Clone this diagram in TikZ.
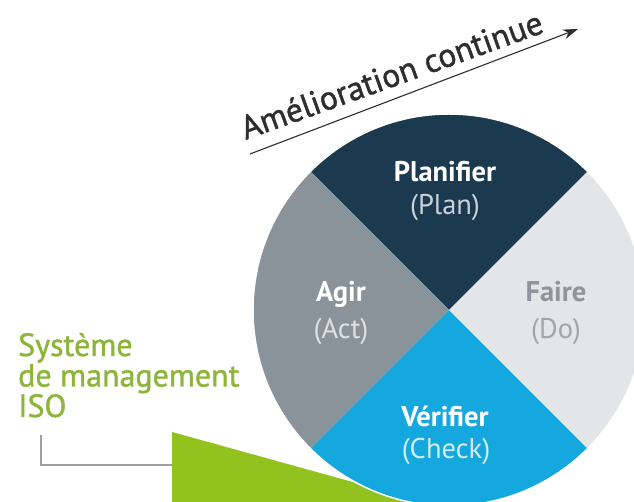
\documentclass[tikz,border=0pt]{standalone}
\usepackage{fontspec}
\setmainfont{PT Sans}
\newfontfamily\medfont[FakeBold=1.2]{PT Sans}
\usetikzlibrary{arrows.meta}
\definecolor{plancol}{HTML}{1C3A4F}
\definecolor{actcol}{HTML}{8B939A}
\definecolor{docol}{HTML}{E4E5E7}
\definecolor{checkcol}{HTML}{14A8DE}
\definecolor{greenshape}{HTML}{92C21E}
\definecolor{greentext}{HTML}{8CB53A}
\definecolor{arrowcol}{HTML}{2E2E2E}
\definecolor{linkcol}{HTML}{A0A0A0}
\definecolor{faircol}{HTML}{8E959C}
\tikzset{
  big/.style={font=\bfseries\fontsize{28.5}{28.5}\selectfont, anchor=base, inner sep=0pt},
  small/.style={font=\fontsize{28.5}{28.5}\selectfont, anchor=base, inner sep=0pt},
}
\begin{document}
\begin{tikzpicture}[x=1pt,y=1pt]
\useasboundingbox (0,0) rectangle (634,502);
\clip (0,0) rectangle (634,502);
\fill[white] (0,0) rectangle (634,502);
% green shape behind the wheel
\fill[greenshape] (172,70) -- (172,-10) -- (461,-10) -- cycle;
% wheel
\coordinate (c) at (449,192);
\def\R{196}
\fill[plancol] (c) -- ++(45:\R) arc[start angle=45,end angle=135,radius=\R] -- cycle;
\fill[actcol] (c) -- ++(135:\R) arc[start angle=135,end angle=225,radius=\R] -- cycle;
\fill[checkcol] (c) -- ++(225:\R) arc[start angle=225,end angle=315,radius=\R] -- cycle;
\fill[docol] (c) -- ++(-45:\R) arc[start angle=-45,end angle=45,radius=\R] -- cycle;
\draw[white, line width=1.5pt] (c) circle[radius=\R];
% labels in the wheel
\node[big, white] (plan) at (445,320) {Planifier};
\node[small, color={rgb,255:red,200;green,210;blue,218}] (plan2) at (445,287) {(Plan)};
\node[big, white] (act) at (341,200) {Agir};
\node[small, color={rgb,255:red,221;green,225;blue,228}] (act2) at (341,163) {(Act)};
\node[big, faircol] (do) at (556,200) {Faire};
\node[small, color={rgb,255:red,160;green,166;blue,172}] (do2) at (556,163) {(Do)};
\node[big, white] (check) at (445,75) {Vérifier};
\node[small, color={rgb,255:red,210;green,236;blue,248}] (check2) at (446,43) {(Check)};
% continuous improvement arrow
\coordinate (a0) at (250,348);
\coordinate (a1) at (578,473);
\draw[arrowcol, line width=1.1pt, -{Stealth[length=15pt,width=10pt]}] (a0) -- (a1);
\node[arrowcol, font=\medfont\fontsize{33.5}{33.5}\selectfont, anchor=base west, inner sep=0pt, rotate=19.8] (ameli) at (245.5,362) {Amélioration continue};
% ISO management system label
\node[greentext, font=\medfont\fontsize{32}{30.5}\selectfont, anchor=base west, inner sep=0pt, align=left] (iso) at (18,85) {Système\\de management\\ISO};
\coordinate (l0) at (41,67);
\coordinate (l1) at (41,37);
\coordinate (l2) at (172,37);
\draw[linkcol, line width=1.3pt] (l0) -- (l1) -- (l2);
\end{tikzpicture}
\end{document}
